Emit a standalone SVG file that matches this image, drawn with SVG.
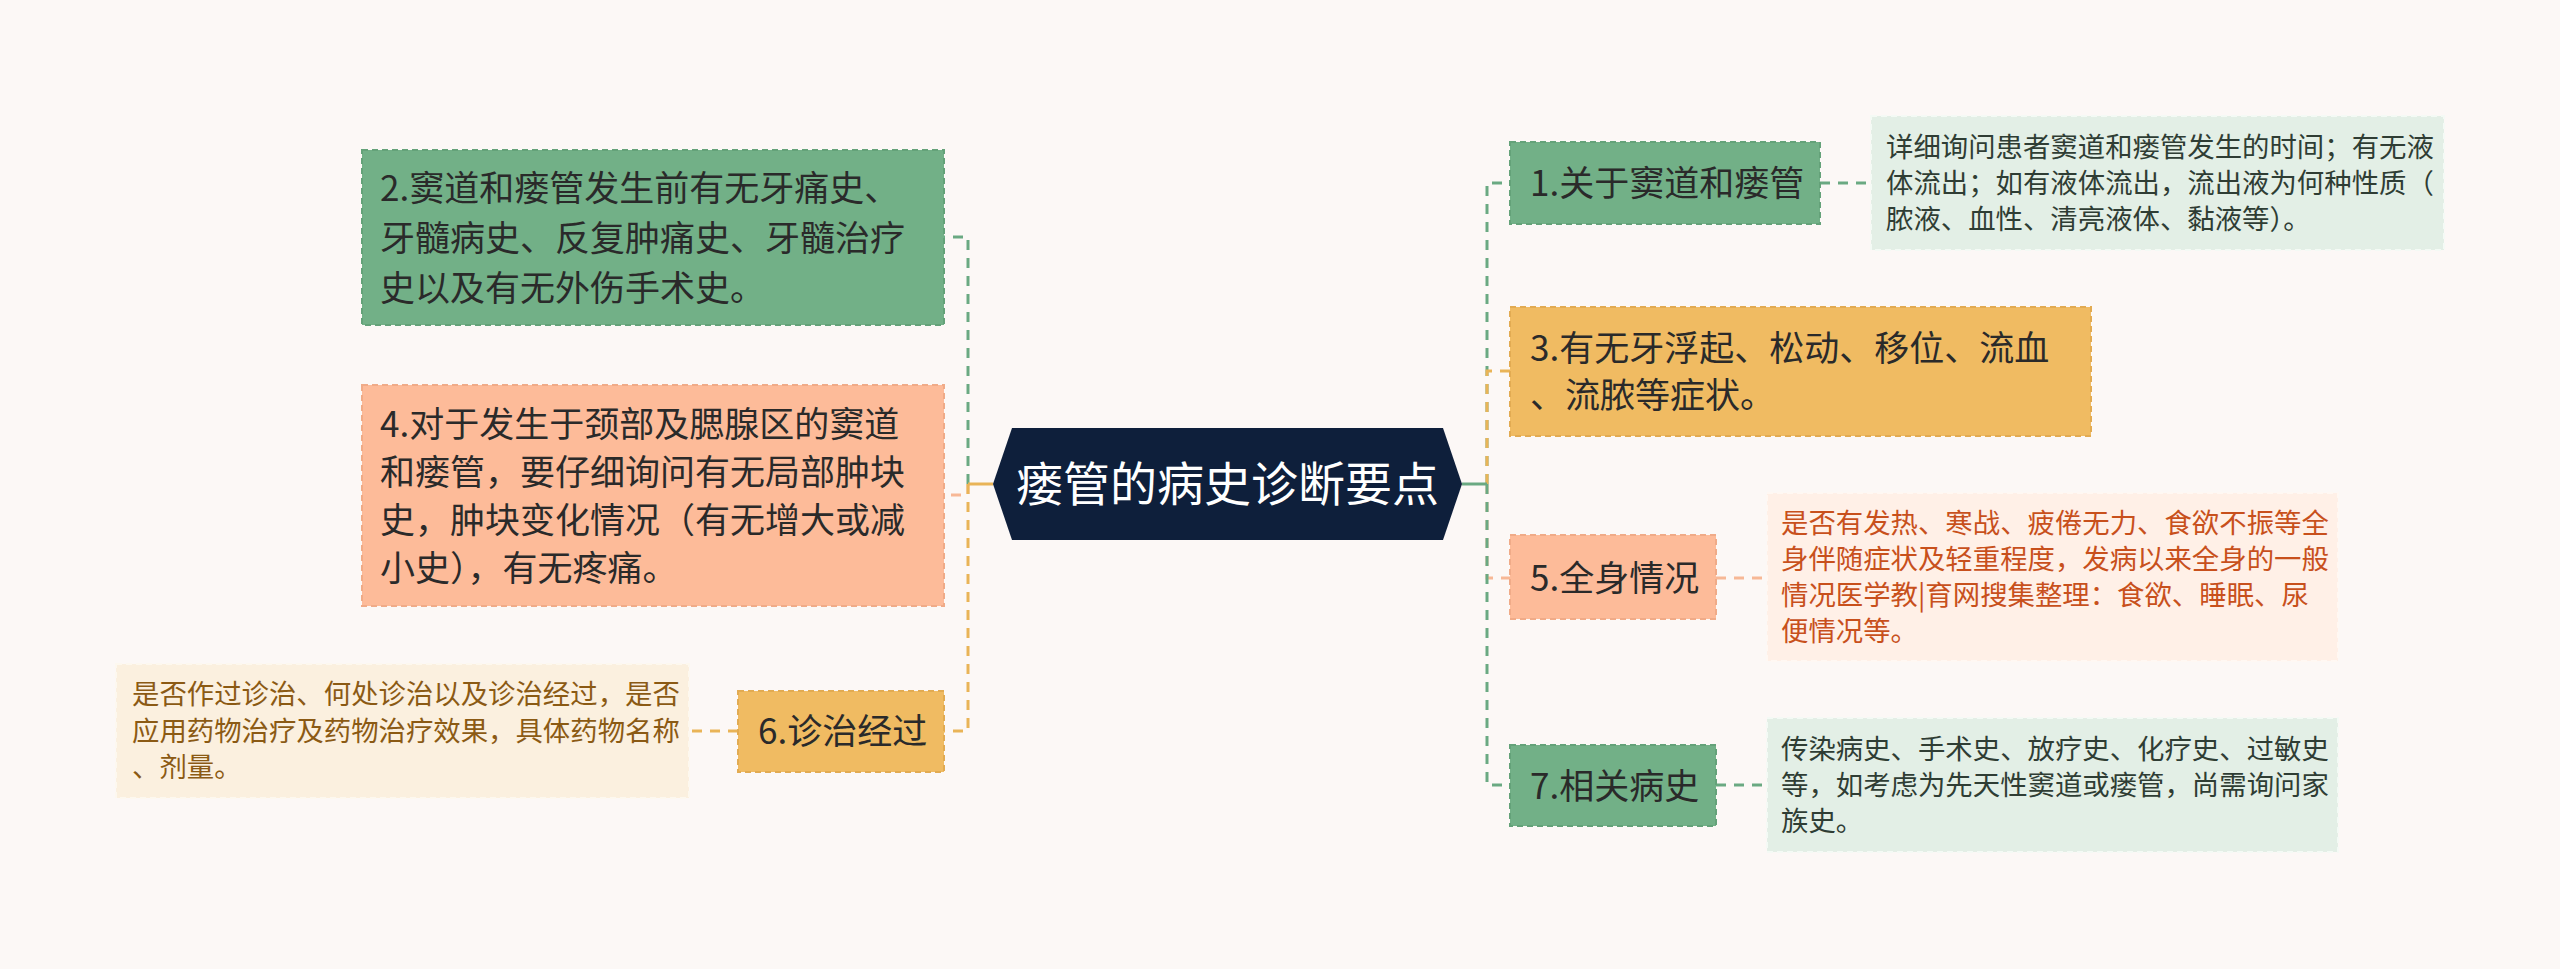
<svg xmlns="http://www.w3.org/2000/svg" width="2560" height="969" viewBox="0 0 2560 969">
<style>
.t{font-family:"Noto Sans CJK SC","Noto Sans",sans-serif;}
.main{font-size:35px;fill:#2a2a2a;}
.det{font-size:27.4px;}
.c{stroke-width:3;fill:none;stroke-dasharray:10 8;}
.green{fill:#72b087;stroke:#64a279;stroke-width:2;stroke-dasharray:6 4;}
.salmon{fill:#fdbb99;stroke:#f0ab88;stroke-width:2;stroke-dasharray:6 4;}
.orange{fill:#f0bb62;stroke:#e2ab52;stroke-width:2;stroke-dasharray:6 4;}
.dg{fill:#e3efe6;stroke:#f4faf5;stroke-width:2;stroke-dasharray:6 4;}
.dc{fill:#fbf0df;stroke:#fdf8ef;stroke-width:2;stroke-dasharray:6 4;}
.ds{fill:#fff0e7;stroke:#fff8f3;stroke-width:2;stroke-dasharray:6 4;}
</style>
<rect width="2560" height="969" fill="#fcf8f6"/>
<g id="connectors">
<path class="c" d="M1487 484 V183 H1510" stroke="#6aa982"/>
<path class="c" d="M1487 484 V371 H1510" stroke="#e9b457"/>
<path class="c" d="M1487 484 V578 H1510" stroke="#f7b896"/>
<path class="c" d="M1487 484 V785 H1510" stroke="#6aa982"/>
<path d="M1462 484 H1487" stroke="#6aa982" stroke-width="3"/>
<path class="c" d="M968 484 V237 H944" stroke="#6aa982"/>
<path class="c" d="M968 484 V495 H944" stroke="#f7b896"/>
<path class="c" d="M968 484 V731 H944" stroke="#e9b457"/>
<path d="M993 484 H968" stroke="#e9b457" stroke-width="3"/>
<path class="c" d="M1820 183 H1871" stroke="#6aa982"/>
<path class="c" d="M1716 578 H1767" stroke="#f7b896"/>
<path class="c" d="M1716 785 H1767" stroke="#6aa982"/>
<path class="c" d="M738 731 H689" stroke="#e9b457"/>
</g>
<g id="center">
<polygon points="993,484 1012,428 1443,428 1462,484 1443,540 1012,540" fill="#0e1f3b"/>
<text class="t" x="1227.5" y="501" font-size="47" fill="#ffffff" text-anchor="middle">瘘管的病史诊断要点</text>
</g>
<g id="node2">
<rect class="green" x="362" y="150" width="582" height="175"/>
<text class="t main" x="380" y="201">2.窦道和瘘管发生前有无牙痛史、</text>
<text class="t main" x="380" y="251">牙髓病史、反复肿痛史、牙髓治疗</text>
<text class="t main" x="380" y="301">史以及有无外伤手术史。</text>
</g>
<g id="node4">
<rect class="salmon" x="362" y="385" width="582" height="221"/>
<text class="t main" x="380" y="437">4.对于发生于颈部及腮腺区的窦道</text>
<text class="t main" x="380" y="485">和瘘管，要仔细询问有无局部肿块</text>
<text class="t main" x="380" y="533">史，肿块变化情况（有无增大或减</text>
<text class="t main" x="380" y="581">小史），有无疼痛。</text>
</g>
<g id="node6">
<rect class="orange" x="738" y="691" width="206" height="81"/>
<text class="t main" x="758" y="744">6.诊治经过</text>
</g>
<g id="node6-detail">
<rect class="dc" x="116" y="664" width="573" height="134"/>
<text class="t det" fill="#8b5a14" x="132" y="704">是否作过诊治、何处诊治以及诊治经过，是否</text>
<text class="t det" fill="#8b5a14" x="132" y="741">应用药物治疗及药物治疗效果，具体药物名称</text>
<text class="t det" fill="#8b5a14" x="132" y="777">、剂量。</text>
</g>
<g id="node1">
<rect class="green" x="1510" y="142" width="310" height="82"/>
<text class="t main" x="1530" y="196">1.关于窦道和瘘管</text>
</g>
<g id="node1-detail">
<rect class="dg" x="1871" y="116" width="573" height="134"/>
<text class="t det" fill="#2f3d34" x="1886" y="157">详细询问患者窦道和瘘管发生的时间；有无液</text>
<text class="t det" fill="#2f3d34" x="1886" y="193">体流出；如有液体流出，流出液为何种性质（</text>
<text class="t det" fill="#2f3d34" x="1886" y="229">脓液、血性、清亮液体、黏液等）。</text>
</g>
<g id="node3">
<rect class="orange" x="1510" y="307" width="581" height="129"/>
<text class="t main" x="1530" y="361">3.有无牙浮起、松动、移位、流血</text>
<text class="t main" x="1530" y="408">、流脓等症状。</text>
</g>
<g id="node5">
<rect class="salmon" x="1510" y="535" width="206" height="84"/>
<text class="t main" x="1530" y="591">5.全身情况</text>
</g>
<g id="node5-detail">
<rect class="ds" x="1767" y="493" width="571" height="168"/>
<text class="t det" fill="#c8501c" x="1781" y="533">是否有发热、寒战、疲倦无力、食欲不振等全</text>
<text class="t det" fill="#c8501c" x="1781" y="569">身伴随症状及轻重程度，发病以来全身的一般</text>
<text class="t det" fill="#c8501c" x="1781" y="605">情况医学教|育网搜集整理：食欲、睡眠、尿</text>
<text class="t det" fill="#c8501c" x="1781" y="641">便情况等。</text>
</g>
<g id="node7">
<rect class="green" x="1510" y="745" width="206" height="81"/>
<text class="t main" x="1530" y="799">7.相关病史</text>
</g>
<g id="node7-detail">
<rect class="dg" x="1767" y="718" width="571" height="134"/>
<text class="t det" fill="#2f3d34" x="1781" y="759">传染病史、手术史、放疗史、化疗史、过敏史</text>
<text class="t det" fill="#2f3d34" x="1781" y="795">等，如考虑为先天性窦道或瘘管，尚需询问家</text>
<text class="t det" fill="#2f3d34" x="1781" y="831">族史。</text>
</g>
</svg>
